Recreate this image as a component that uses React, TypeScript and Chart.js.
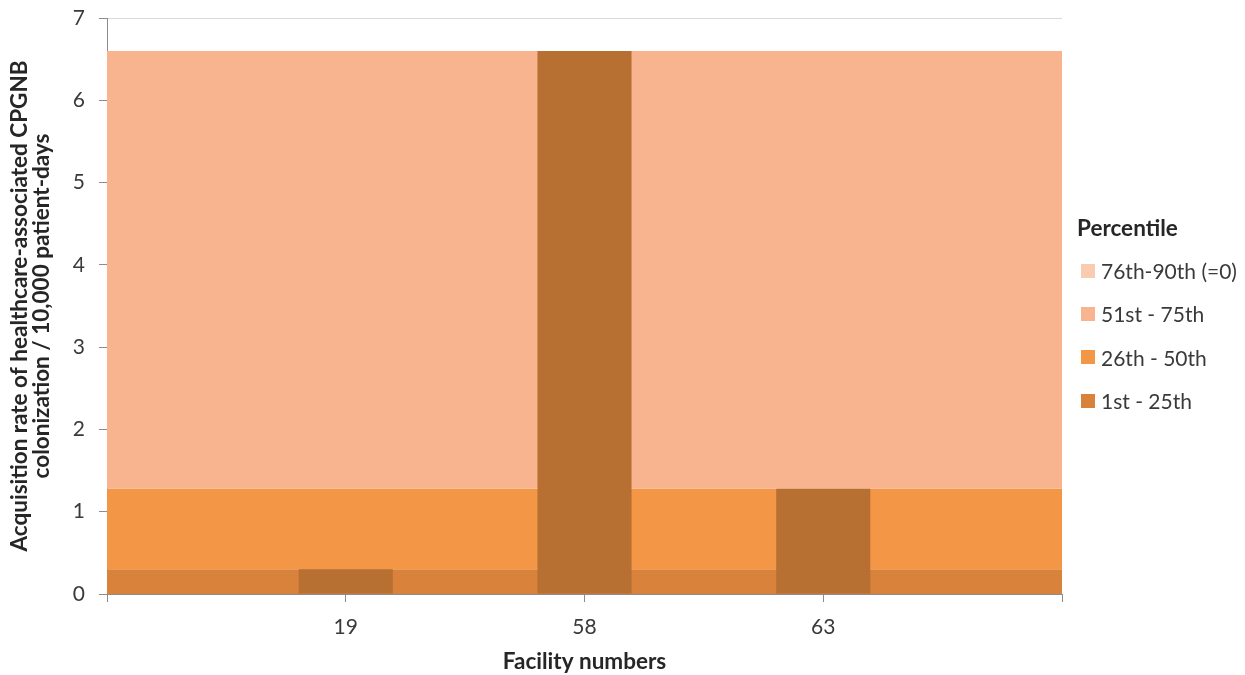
import React, { useEffect, useRef } from 'react';
import { Chart, registerables } from 'chart.js';

Chart.register(...registerables);

// Data
const categories: string[] = ['', '19', '58', '63', ''];
const facilityRates: (number | null)[] = [null, 0.3, 6.6, 1.28, null];
const band76to90: number[] = [6.6, 6.6, 6.6, 6.6, 6.6];
const band51to75: number[] = [6.6, 6.6, 6.6, 6.6, 6.6];
const band26to50: number[] = [1.28, 1.28, 1.28, 1.28, 1.28];
const band1to25: number[] = [0.3, 0.3, 0.3, 0.3, 0.3];
const bandLabels: string[] = ['76th-90th (=0)', '51st - 75th', '26th - 50th', '1st - 25th'];
const yTitle: string[] = ['Acquisition rate of healthcare-associated CPGNB', 'colonization / 10,000 patient-days'];
const xTitle = 'Facility numbers';
const legendTitle = 'Percentile';

// Styles
const bandColors: string[] = ['#F9CBB0', '#F7B48F', '#F39646', '#D9823B'];
const barColor = '#B86F32';
const FONT = 'Lato, "Open Sans", sans-serif';
const textCol = '#3a3a3a';
const titleCol = '#262626';
const axisGrey = '#8c8c8c';

export default function App() {
  const canvasRef = useRef<HTMLCanvasElement | null>(null);

  useEffect(() => {
    document.body.style.margin = '0';
    const canvas = canvasRef.current;
    if (!canvas) return;
    const bandData = [band76to90, band51to75, band26to50, band1to25];
    const bandDatasets = bandLabels.map((label, i) => ({
      type: 'line',
      label,
      data: bandData[i],
      backgroundColor: bandColors[i],
      borderColor: 'transparent',
      borderWidth: 0,
      pointRadius: 0,
      fill: i === bandLabels.length - 1 ? 'origin' : '+1',
      order: 1,
    }));
    const chart = new Chart(canvas, {
      type: 'bar',
      data: {
        labels: categories,
        datasets: [
          {
            type: 'bar',
            label: 'Facility',
            data: facilityRates as any,
            backgroundColor: barColor,
            borderWidth: 0,
            categoryPercentage: 1,
            barPercentage: 0.394,
            order: 0,
          },
          ...bandDatasets,
        ] as any,
      },
      options: {
        animation: false,
        responsive: true,
        maintainAspectRatio: false,
        layout: { padding: { left: 8, top: 18, right: 183, bottom: 0 } },
        plugins: {
          tooltip: { enabled: false },
          legend: { display: false },
        },
        scales: {
          x: {
            type: 'category',
            offset: false,
            grid: {
              offset: false,
              drawOnChartArea: false,
              drawTicks: true,
              tickLength: 8,
              tickColor: axisGrey,
            },
            border: { color: axisGrey },
            ticks: {
              autoSkip: false,
              maxRotation: 0,
              padding: 13,
              color: textCol,
              font: { family: FONT, size: 21 },
            },
            title: {
              display: true,
              text: xTitle,
              color: titleCol,
              font: { family: FONT, size: 22.5, weight: 'bold', lineHeight: 1.2 },
              padding: { top: 2, bottom: 0 },
            },
            afterFit: (scale: any) => {
              scale.height = 81;
              scale.paddingLeft = 0;
              scale.paddingRight = 0;
            },
          },
          y: {
            min: 0,
            max: 7,
            ticks: {
              stepSize: 1,
              padding: 14,
              color: textCol,
              font: { family: FONT, size: 21 },
            },
            grid: {
              color: '#d9d9d9',
              tickColor: axisGrey,
              tickLength: 8,
            },
            border: { color: axisGrey },
            title: {
              display: true,
              text: yTitle,
              color: titleCol,
              font: { family: FONT, size: 22.5, weight: 'bold', lineHeight: 0.98 },
              padding: { top: 1, bottom: 4 },
            },
            afterFit: (scale: any) => {
              scale.width = 99;
              scale.paddingTop = 0;
              scale.paddingBottom = 0;
            },
          },
        },
      } as any,
    });
    return () => chart.destroy();
  }, []);

  return (
    <div style={{ width: '1245px', height: '675px', position: 'relative', background: '#fff' }}>
      <canvas ref={canvasRef} />
      <div
        style={{
          position: 'absolute',
          left: '1077px',
          top: '207px',
          fontFamily: FONT,
          whiteSpace: 'nowrap',
        }}
      >
        <div style={{ height: '42px', lineHeight: '42px', fontSize: '22.5px', fontWeight: 'bold', color: titleCol }}>
          {legendTitle}
        </div>
        {bandLabels.map((label, i) => (
          <div
            key={label}
            style={{
              height: '43.33px',
              display: 'flex',
              alignItems: 'center',
              fontSize: '21px',
              color: textCol,
            }}
          >
            <span
              style={{
                display: 'inline-block',
                width: '14px',
                height: '14px',
                marginLeft: '4px',
                marginRight: '6px',
                background: bandColors[i],
              }}
            />
            <span>{label}</span>
          </div>
        ))}
      </div>
    </div>
  );
}
